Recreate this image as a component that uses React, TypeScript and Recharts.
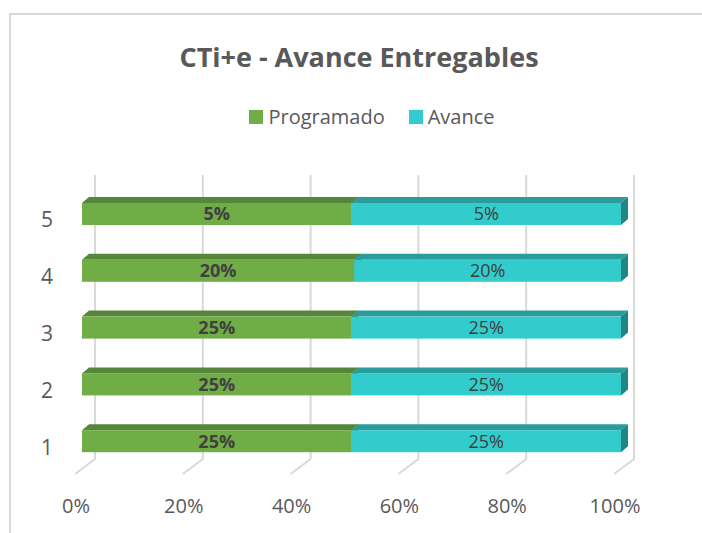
import React from 'react';
import { BarChart, Bar, XAxis, YAxis, CartesianGrid, Legend, LabelList } from 'recharts';

const categories = ['1', '2', '3', '4', '5'];
const programado = [0.25, 0.25, 0.25, 0.2, 0.05];
const avance = [0.25, 0.25, 0.25, 0.196, 0.05];
const xTicks = [0, 0.2, 0.4, 0.6, 0.8, 1];
const seriesNames = ['Programado', 'Avance'];

const data = categories.map((c, i) => ({ cat: c, prog: programado[i], av: avance[i] }));

const FONT = '"Open Sans", sans-serif';
const TEXT = '#595959';

const pct = (v: any) => `${Math.round(Number(v) * 100)}%`;

const make3D = (front: string, top: string, side: string) => (props: any) => {
  const { x, y, width, height } = props;
  if (width == null || height == null) return null;
  const dx = 7;
  const dy = 6;
  return (
    <g>
      <polygon points={`${x},${y} ${x + dx},${y - dy} ${x + width + dx},${y - dy} ${x + width},${y}`} fill={top} />
      <polygon
        points={`${x + width},${y} ${x + width + dx},${y - dy} ${x + width + dx},${y + height - dy} ${x + width},${y + height}`}
        fill={side}
      />
      <rect x={x} y={y} width={width} height={height} fill={front} />
    </g>
  );
};

const GreenShape = make3D('#70AD47', '#55863A', '#4C7A33');
const CyanShape = make3D('#33CCCC', '#2A9C9C', '#1F8585');

const GridLine3D = (p: any) => {
  const { x1, y1, y2 } = p;
  const bx = x1 + 13;
  const d = `M${bx},${y1 - 11} L${bx},${y2 - 11} L${x1 - 7},${y2 + 4}`;
  return <path key={p.key} d={d} stroke="#D9D9D9" strokeWidth={2} fill="none" />;
};

const XTick = (p: any) => (
  <text x={p.x - 6} y={p.y + 43} textAnchor="middle" fill={TEXT} fontSize={20} fontFamily={FONT}>
    {pct(p.payload.value)}
  </text>
);

const YTick = (p: any) => (
  <text x={p.x - 29} y={p.y + 13} textAnchor="end" fill={TEXT} fontSize={21} fontFamily={FONT}>
    {p.payload.value}
  </text>
);

const LegendContent = (props: any) => {
  const items = [...(props.payload || [])].sort(
    (a: any, b: any) => seriesNames.indexOf(a.value) - seriesNames.indexOf(b.value)
  );
  return (
    <div style={{ display: 'flex', justifyContent: 'center', paddingLeft: 42, fontFamily: FONT, fontSize: 20, color: TEXT, lineHeight: '20px' }}>
      {items.map((it: any, i: number) => (
        <span key={i} style={{ marginRight: i === 0 ? 24 : 0, whiteSpace: 'nowrap' }}>
          <span style={{ display: 'inline-block', width: 14, height: 14, background: it.color, marginRight: 5, verticalAlign: 'baseline' }} />
          {it.value}
        </span>
      ))}
    </div>
  );
};

export default function App() {
  return (
    <div style={{ position: 'absolute', left: 0, top: 0, width: 702, height: 533, overflow: 'hidden', background: '#fff' }}>
      <div
        style={{
          position: 'absolute',
          left: 9,
          top: 13,
          width: 740,
          height: 560,
          border: '2px solid #D9D9D9',
          boxSizing: 'border-box',
        }}
      />
      <div
        style={{
          position: 'absolute',
          left: 0,
          top: 43,
          width: 718,
          textAlign: 'center',
          fontFamily: FONT,
          fontWeight: 700,
          fontSize: 27,
          lineHeight: '27px',
          color: TEXT,
          whiteSpace: 'nowrap',
        }}
      >
        CTi+e - Avance Entregables
      </div>
      <div style={{ position: 'absolute', left: 0, top: 0 }}>
        <BarChart
          width={702}
          height={533}
          data={data}
          layout="vertical"
          stackOffset="expand"
          margin={{ top: 186, right: 81, bottom: 33, left: 22 }}
        >
          <CartesianGrid horizontal={false} vertical={GridLine3D} />
          <XAxis
            type="number"
            domain={[0, 1]}
            ticks={xTicks}
            axisLine={false}
            tickLine={false}
            tickSize={0}
            tickMargin={0}
            height={30}
            tick={<XTick />}
            interval={0}
          />
          <YAxis
            type="category"
            dataKey="cat"
            reversed
            axisLine={false}
            tickLine={false}
            tickSize={0}
            tickMargin={0}
            width={60}
            tick={<YTick />}
            interval={0}
          />
          <Legend
            verticalAlign="middle"
            align="center"
            layout="horizontal"
            content={<LegendContent />}
            wrapperStyle={{ top: 107, left: 0, width: 702 }}
          />
          <Bar dataKey="prog" name={seriesNames[0]} stackId="s" fill="#70AD47" barSize={22} shape={GreenShape} isAnimationActive={false}>
            <LabelList dataKey="prog" position="center" formatter={pct} fill="#404040" fontSize={18} fontWeight={700} fontFamily={FONT} />
          </Bar>
          <Bar dataKey="av" name={seriesNames[1]} stackId="s" fill="#33CCCC" barSize={22} shape={CyanShape} isAnimationActive={false}>
            <LabelList dataKey="av" position="center" formatter={pct} fill="#404040" fontSize={18} fontFamily={FONT} />
          </Bar>
        </BarChart>
      </div>
    </div>
  );
}
